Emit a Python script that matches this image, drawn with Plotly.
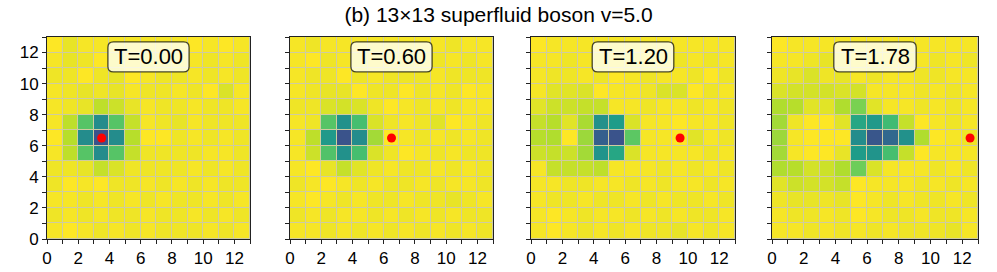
import plotly.graph_objects as go

# ---------------- data (rows listed from y=12 at top down to y=0) ----------------
times = ["T=0.00", "T=0.60", "T=1.20", "T=1.78"]
dot_x = [3.5, 6.5, 9.5, 12.5]
dot_y = [6.5, 6.5, 6.5, 6.5]
cell_centers = [0.5 + k for k in range(13)]
tick_vals = [0, 2, 4, 6, 8, 10, 12]

density_t000 = [
    [98, 95, 97, 97, 97, 97, 97, 97, 97, 98, 97, 98, 97],
    [97, 95, 96, 98, 96, 97, 96, 96, 97, 97, 96, 97, 96],
    [96, 96, 99, 96, 95, 99, 97, 96, 96, 97, 96, 97, 96],
    [97, 96, 95, 96, 95, 97, 96, 96, 97, 96, 98, 93, 97],
    [97, 96, 95, 89, 91, 95, 97, 96, 96, 97, 96, 96, 97],
    [97, 89, 73, 50, 73, 90, 97, 96, 95, 97, 96, 96, 96],
    [98, 88, 50, 29, 50, 88, 98, 99, 96, 97, 96, 97, 96],
    [97, 89, 73, 50, 73, 90, 96, 96, 96, 96, 97, 97, 96],
    [96, 96, 95, 90, 93, 96, 96, 96, 96, 97, 96, 97, 96],
    [96, 98, 97, 98, 96, 96, 97, 96, 97, 96, 97, 96, 96],
    [97, 97, 96, 97, 96, 97, 96, 97, 96, 96, 97, 96, 97],
    [96, 97, 96, 97, 96, 96, 97, 96, 96, 97, 96, 97, 96],
    [97, 98, 97, 96, 97, 96, 97, 96, 96, 96, 97, 96, 97],
]
density_t060 = [
    [97, 96, 97, 97, 97, 97, 97, 97, 97, 97, 96, 97, 97],
    [97, 98, 96, 97, 96, 97, 97, 96, 97, 96, 97, 96, 97],
    [97, 96, 96, 98, 96, 97, 96, 96, 96, 97, 96, 96, 96],
    [97, 96, 95, 95, 98, 96, 96, 98, 96, 97, 96, 98, 97],
    [96, 96, 93, 92, 93, 96, 98, 97, 96, 97, 96, 97, 97],
    [97, 96, 73, 52, 70, 93, 96, 97, 96, 94, 98, 97, 96],
    [97, 89, 55, 29, 50, 85, 98, 97, 96, 97, 96, 97, 96],
    [97, 91, 72, 52, 70, 93, 96, 98, 97, 96, 97, 96, 96],
    [97, 98, 95, 90, 94, 96, 97, 96, 96, 97, 96, 97, 96],
    [96, 97, 98, 97, 96, 97, 96, 96, 97, 96, 97, 97, 96],
    [97, 98, 97, 96, 97, 96, 96, 97, 96, 96, 95, 96, 97],
    [96, 97, 96, 97, 97, 96, 97, 96, 97, 96, 97, 96, 96],
    [97, 97, 96, 97, 96, 97, 96, 97, 96, 97, 96, 97, 96],
]
density_t120 = [
    [98, 97, 97, 97, 97, 97, 97, 97, 97, 97, 97, 97, 97],
    [97, 97, 96, 97, 96, 97, 96, 97, 97, 96, 97, 96, 97],
    [97, 96, 96, 97, 96, 98, 97, 96, 97, 97, 96, 98, 96],
    [97, 94, 94, 93, 98, 97, 97, 96, 93, 93, 98, 96, 97],
    [94, 91, 91, 90, 90, 97, 97, 96, 97, 97, 96, 97, 96],
    [90, 88, 94, 86, 52, 56, 93, 97, 97, 98, 97, 97, 96],
    [88, 87, 99, 84, 33, 29, 74, 97, 97, 98, 94, 97, 96],
    [91, 90, 91, 85, 53, 60, 93, 97, 97, 97, 97, 96, 97],
    [97, 90, 90, 90, 89, 97, 97, 97, 96, 97, 96, 97, 96],
    [97, 97, 96, 96, 97, 97, 96, 97, 96, 97, 97, 96, 97],
    [97, 96, 96, 97, 96, 96, 97, 96, 97, 96, 96, 97, 96],
    [97, 99, 97, 96, 97, 97, 96, 97, 96, 97, 96, 96, 97],
    [97, 99, 97, 96, 97, 96, 97, 96, 96, 95, 97, 96, 97],
]
density_t178 = [
    [98, 97, 97, 97, 97, 97, 97, 97, 97, 97, 97, 97, 97],
    [97, 97, 96, 95, 96, 97, 97, 97, 96, 97, 96, 97, 96],
    [96, 95, 93, 96, 95, 97, 96, 97, 97, 96, 96, 97, 97],
    [93, 92, 92, 92, 93, 92, 97, 97, 97, 96, 97, 96, 97],
    [87, 88, 94, 94, 87, 79, 94, 97, 97, 96, 97, 96, 97],
    [85, 96, 98, 98, 94, 60, 55, 69, 90, 98, 97, 96, 97],
    [84, 97, 98, 98, 98, 50, 30, 36, 52, 87, 98, 97, 96],
    [85, 97, 98, 98, 95, 56, 53, 70, 90, 98, 97, 97, 97],
    [87, 88, 92, 91, 87, 77, 93, 97, 97, 97, 96, 97, 96],
    [94, 91, 92, 92, 90, 98, 97, 97, 97, 96, 97, 96, 97],
    [96, 95, 95, 96, 95, 98, 97, 96, 97, 96, 96, 97, 96],
    [97, 96, 96, 97, 96, 98, 97, 96, 96, 97, 96, 96, 97],
    [97, 97, 96, 97, 96, 97, 96, 97, 96, 96, 96, 95, 97],
]
grids = [density_t000, density_t060, density_t120, density_t178]

# ---------------- layout geometry ----------------
W, H = 997, 272
x_px = [(47, 250), (290, 493), (531, 735), (772, 978)]
y_top, y_bot = 37, 239
FONT = "Liberation Sans, Arial, Helvetica, sans-serif"

fig = go.Figure()
layout_axes = {}
shapes = []
annotations = []

for i in range(4):
    xa = "x" if i == 0 else f"x{i+1}"
    ya = "y" if i == 0 else f"y{i+1}"
    fig.add_trace(go.Heatmap(
        z=grids[i][::-1], x=cell_centers, y=cell_centers,
        colorscale="Viridis", zmin=5, zmax=98, showscale=False,
        xgap=1, ygap=1, xaxis=xa, yaxis=ya, hoverinfo="skip"))
    fig.add_trace(go.Scatter(
        x=[dot_x[i]], y=[dot_y[i]], mode="markers",
        marker=dict(color="red", size=9), xaxis=xa, yaxis=ya,
        showlegend=False, cliponaxis=False))

    common = dict(range=[0, 13], tickmode="array", tickvals=tick_vals,
                  ticks="outside", ticklen=4, tickwidth=1, tickcolor="#222",
                  showline=True, mirror=True, linecolor="#222", linewidth=1,
                  showgrid=False, zeroline=False, automargin=False,
                  minor=dict(dtick=1, tick0=0, ticks="outside", ticklen=4,
                             tickcolor="#222", showgrid=False),
                  tickfont=dict(family=FONT, size=17, color="black"))
    xk = "xaxis" if i == 0 else f"xaxis{i+1}"
    yk = "yaxis" if i == 0 else f"yaxis{i+1}"
    layout_axes[xk] = dict(common, domain=[x_px[i][0] / W, x_px[i][1] / W], anchor=ya)
    layout_axes[yk] = dict(common, domain=[1 - y_bot / H, 1 - y_top / H], anchor=xa,
                           showticklabels=(i == 0))

    # rounded label box
    cx, y0, y1, half, r = 6.5, 10.75, 12.68, 2.6, 0.35
    x0, x1 = cx - half, cx + half
    path = (f"M {x0+r},{y0} L {x1-r},{y0} Q {x1},{y0} {x1},{y0+r} "
            f"L {x1},{y1-r} Q {x1},{y1} {x1-r},{y1} L {x0+r},{y1} "
            f"Q {x0},{y1} {x0},{y1-r} L {x0},{y0+r} Q {x0},{y0} {x0+r},{y0} Z")
    shapes.append(dict(type="path", path=path, xref=xa, yref=ya,
                       fillcolor="rgba(255,255,240,0.82)",
                       line=dict(color="rgba(40,40,20,0.85)", width=1.3),
                       layer="above"))
    annotations.append(dict(text=times[i], x=cx, y=(y0 + y1) / 2, xref=xa, yref=ya,
                            showarrow=False, xanchor="center", yanchor="middle",
                            font=dict(family=FONT, size=22, color="black")))

fig.update_layout(
    width=W, height=H,
    margin=dict(l=0, r=0, t=0, b=0),
    paper_bgcolor="white", plot_bgcolor="#cfcca0",
    showlegend=False,
    title=dict(text="(b) 13×13 superfluid boson v=5.0", x=0.5, xanchor="center",
               y=1 - 15 / H, yanchor="middle", yref="container",
               font=dict(family=FONT, size=21, color="black")),
    shapes=shapes, annotations=annotations,
    **layout_axes)

fig.write_html("out.html", config={"displayModeBar": False},
               post_script="document.body.style.margin='0px';document.body.style.overflow='hidden';")
